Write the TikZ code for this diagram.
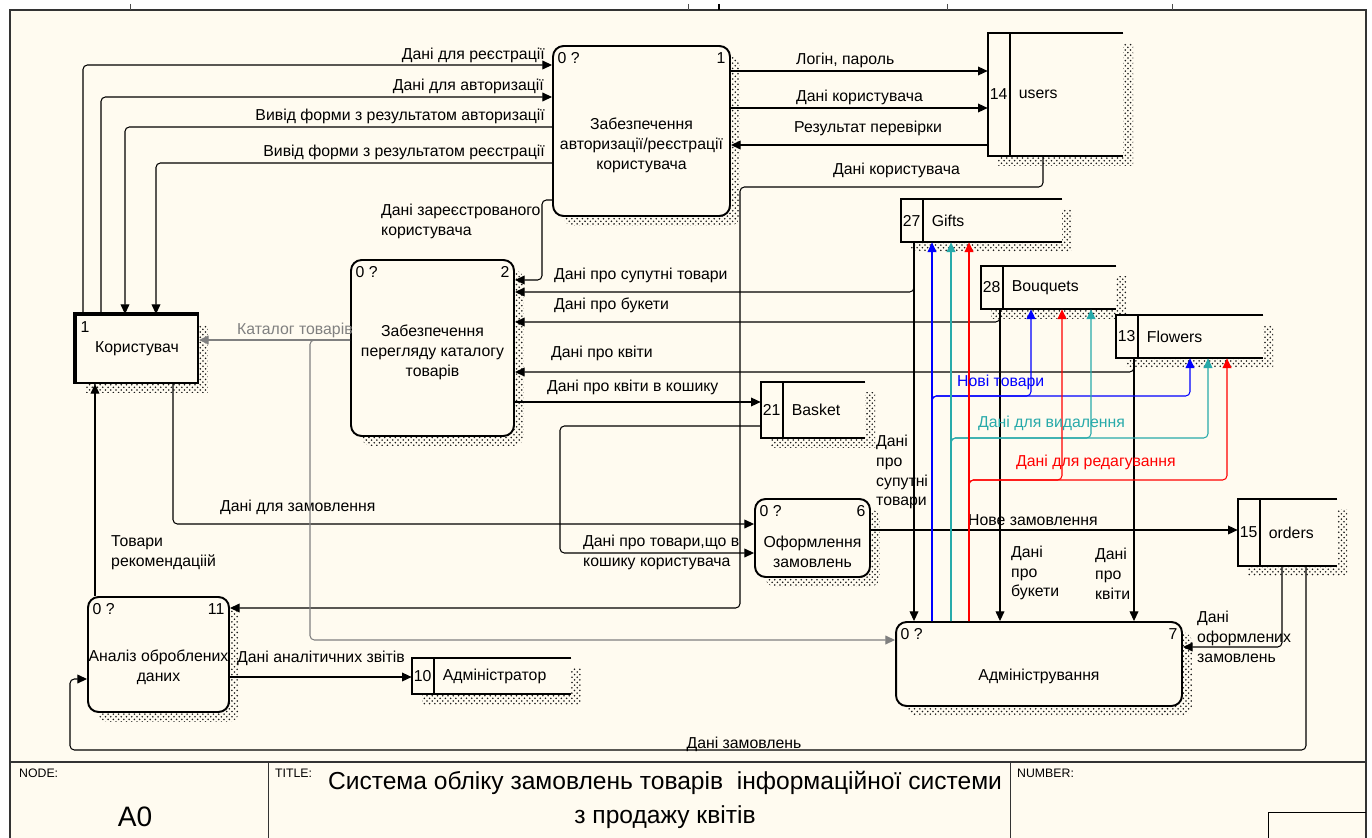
\documentclass[tikz,border=0pt]{standalone}
\usepackage{fontspec}
\setmainfont{Liberation Sans}
\usetikzlibrary{arrows.meta,shadows,patterns}

% colours of the sheet and of the flows
\definecolor{paper}{RGB}{255,251,240}
\definecolor{newflow}{RGB}{0,0,255}
\definecolor{delflow}{RGB}{40,170,170}
\definecolor{editflow}{RGB}{255,0,0}
\definecolor{catflow}{RGB}{128,128,128}

\tikzset{
  every node/.style={font=\fontsize{9}{11.3}\selectfont},
  hatch/.style={general shadow={shadow xshift=0.2cm,shadow yshift=-0.2cm,
      pattern=crosshatch dots,pattern color=black!90}},
  proc/.style={draw,line width=1.1pt,rounded corners=6pt,fill=paper,hatch},
  store/.style={fill=paper,inner sep=0pt,hatch},
  storeline/.style={line width=1.1pt},
  tag/.style={inner xsep=3pt,inner ysep=4pt},
  flow/.style={line width=0.6pt,rounded corners=2.5pt,
      -{Triangle[length=5.5pt,width=5pt]}},
}

% data store: name, centre, width, height, number, title
\newcommand{\datastore}[6]{%
  \node[store,minimum width=#3,minimum height=#4] (#1) at (#2) {};
  \draw[storeline] (#1.north east) -- (#1.north west) -- (#1.south west) -- (#1.south east);
  \draw[storeline] ([xshift=0.44cm]#1.north west) -- ([xshift=0.44cm]#1.south west);
  \node (#1num) at ([xshift=0.22cm]#1.west) {#5};
  \node[anchor=west] (#1name) at ([xshift=0.5cm]#1.west) {#6};
}

\begin{document}
\begin{tikzpicture}[x=0.02cm,y=-0.02cm]

  % sheet
  \useasboundingbox (0,0) rectangle (1372,838);
  \fill[white] (0,0) rectangle (1372,838);
  \fill[paper] (10,10) rectangle (1366,838);
  \draw[line width=1pt,black!80] (10,838) -- (10,10) -- (1366,10) -- (1366,838);
  \foreach \tx in {130,688,947,1172}
    \draw[black!70] (\tx,4) -- (\tx,10);
  \draw[line width=1pt] (719,4) -- (719,10);

  % title block
  \draw[line width=1pt,black!80] (10,762) -- (1366,762);
  \draw[black!80] (268,762) -- (268,838);
  \draw[black!80] (1010,762) -- (1010,838);
  \draw (1268,838) |- (1366,812);
  \node[anchor=west,font=\fontsize{7}{8}\selectfont] (nodelbl) at (13,773) {NODE:};
  \node[font=\fontsize{16}{19}\selectfont] (nodeid) at (135,817) {A0};
  \node[anchor=west,font=\fontsize{7}{8}\selectfont] (titlelbl) at (269,773) {TITLE:};
  \node[align=center,font=\fontsize{14}{19.8}\selectfont] (titletext) at (665,800)
    {Система обліку замовлень товарів\ \ інформаційної системи\\з продажу квітів};
  \node[anchor=west,font=\fontsize{7}{8}\selectfont] (numberlbl) at (1011,773) {NUMBER:};

  % processes
  \node[proc,minimum width=3.54cm,minimum height=3.40cm,
    label={[tag,anchor=north west]north west:0 ?},
    label={[tag,anchor=north east]north east:1}] (auth) at (641.5,131) {};
  \node[align=center] (authtext) at ([yshift=-0.28cm]auth.center)
    {Забезпечення\\авторизації/реєстрації\\користувача};

  \node[proc,minimum width=3.26cm,minimum height=3.52cm,
    label={[tag,anchor=north west]north west:0 ?},
    label={[tag,anchor=north east]north east:2}] (catalog) at (432.5,348) {};
  \node[align=center] (catalogtext) at ([yshift=-0.08cm]catalog.center)
    {Забезпечення\\перегляду каталогу\\товарів};

  \node[proc,minimum width=2.30cm,minimum height=1.56cm,
    label={[tag,anchor=north west]north west:0 ?},
    label={[tag,anchor=north east]north east:6}] (order) at (812.5,538) {};
  \node[align=center] (ordertext) at ([yshift=-0.28cm]order.center)
    {Оформлення\\замовлень};

  \node[proc,minimum width=5.72cm,minimum height=1.68cm,
    label={[tag,anchor=north west]north west:0 ?},
    label={[tag,anchor=north east]north east:7}] (admin) at (1039,664) {};
  \node (admintext) at ([yshift=-0.24cm]admin.center) {Адміністрування};

  \node[proc,minimum width=2.82cm,minimum height=2.30cm,
    label={[tag,anchor=north west]north west:0 ?},
    label={[tag,anchor=north east]north east:11}] (analysis) at (158.5,654.5) {};
  \node[align=center] (analysistext) at ([yshift=-0.26cm]analysis.center)
    {Аналіз оброблених\\даних};

  % external entity
  \node[draw,line width=1.1pt,fill=paper,hatch,minimum width=2.44cm,minimum height=1.36cm,
    label={[tag,anchor=north west]north west:1}] (user) at (137,349) {Користувач};
  \draw[line width=2.6pt] (user.south west) -- (user.north west) -- (user.north east);

  % data stores
  \datastore{users}{1055.5,94.5}{2.70cm}{2.46cm}{14}{users}
  \datastore{gifts}{981.5,220.5}{3.22cm}{0.86cm}{27}{Gifts}
  \datastore{bouquets}{1048.5,287.5}{2.70cm}{0.86cm}{28}{Bouquets}
  \datastore{flowers}{1189.5,336.5}{2.94cm}{0.86cm}{13}{Flowers}
  \datastore{basket}{813,410}{2.08cm}{1.12cm}{21}{Basket}
  \datastore{orders}{1287.5,532.5}{1.98cm}{1.34cm}{15}{orders}
  \datastore{adminstore}{491.5,676}{3.18cm}{0.72cm}{10}{Адміністратор}

  % user <-> authorisation
  \draw[flow] (user.north -| 83,0) |- (auth.west |- 0,65);
  \draw[flow] (user.north -| 101,0) |- (auth.west |- 0,97);
  \draw[flow] (auth.west |- 0,127) -| (user.north -| 125,0);
  \draw[flow] (auth.west |- 0,163) -| (user.north -| 156,0);
  \node[anchor=east] (lreg) at (551,55) {Дані для реєстрації};
  \node[anchor=east] (lauth) at (550,86) {Дані для авторизації};
  \node[anchor=east] (lauthform) at (551,116) {Вивід форми з результатом авторизації};
  \node[anchor=east] (lregform) at (551,152) {Вивід форми з результатом реєстрації};

  % authorisation <-> users
  \draw[flow] (auth.east |- 0,71) -- (users.west |- 0,71);
  \draw[flow] (auth.east |- 0,108) -- (users.west |- 0,108);
  \draw[flow] (users.west |- 0,145) -- (auth.east |- 0,145);
  \draw[flow] (users.south -| 1043,0) |- (740,187) |- (analysis.east |- 0,608);
  \node[anchor=west] (llogin) at (790,60) {Логін, пароль};
  \node[anchor=west] (luserdata) at (790,97) {Дані користувача};
  \node[anchor=west] (lcheck) at (788,128) {Результат перевірки};
  \node[anchor=west] (luserdata2) at (827,170) {Дані користувача};

  % authorisation -> catalogue
  \draw[flow] (auth.west |- 0,200) -- (542,200) |- (catalog.east |- 0,280);
  \node[anchor=west,align=left] (lregistered) at (375,221) {Дані зареєстрованого\\користувача};

  % stores -> catalogue and administration
  \draw[flow] (gifts.south -| 914,0) |- (catalog.east |- 0,292);
  \draw[flow] (gifts.south -| 914,0) -- (admin.north -| 914,0);
  \draw[flow] (bouquets.south -| 1000,0) |- (catalog.east |- 0,322);
  \draw[flow] (bouquets.south -| 1000,0) -- (admin.north -| 1000,0);
  \draw[flow] (flowers.south -| 1134,0) |- (catalog.east |- 0,372);
  \draw[flow] (flowers.south -| 1134,0) -- (admin.north -| 1134,0);
  \node[anchor=west] (lgifts) at (548,275) {Дані про супутні товари};
  \node[anchor=west] (lbouquets) at (548,305) {Дані про букети};
  \node[anchor=west] (lflowers) at (545,353) {Дані про квіти};
  \node[anchor=west,align=left] (lgifts2) at (870,472) {Дані\\про\\супутні\\товари};
  \node[anchor=west,align=left] (lbouquets2) at (1005,573) {Дані\\про\\букети};
  \node[anchor=west,align=left] (lflowers2) at (1089,574) {Дані\\про\\квіти};

  % catalogue -> basket -> order
  \draw[flow] (catalog.east |- 0,402) -- (basket.west |- 0,402);
  \draw[flow] (basket.west |- 0,426) -| (560,553) -- (order.west |- 0,553);
  \node[anchor=west] (lbasket) at (541,387) {Дані про квіти в кошику};
  \node[anchor=west,align=left] (lbasket2) at (577,552) {Дані про товари,що в\\кошику користувача};

  % user -> order -> orders
  \draw[flow] (user.south -| 173,0) |- (order.west |- 0,524);
  \draw[flow] (order.east |- 0,530) -- (orders.west |- 0,530);
  \node[anchor=west] (lorder) at (214,507) {Дані для замовлення};
  \node[anchor=west] (lneworder) at (962,520) {Нове замовлення};

  % orders -> administration and analysis
  \draw[flow] (orders.south -| 1282,0) |- (admin.east |- 0,647);
  \draw[flow] (orders.south -| 1306,0) |- (70,750) |- (analysis.west |- 0,679);
  \node[anchor=west,align=left] (lplaced) at (1191,637) {Дані\\оформлених\\замовлень};
  \node (lorders) at (744,744) {Дані замовлень};

  % analysis
  \draw[flow] (analysis.north -| 95,0) -- (user.south -| 95,0);
  \draw[flow] (analysis.east |- 0,677) -- (adminstore.west |- 0,677);
  \node[anchor=west,align=left] (lrecommend) at (105,553) {Товари\\рекомендаціій};
  \node[anchor=west] (lreports) at (231,658) {Дані аналітичних звітів};

  % catalogue of goods (grey)
  \draw[flow,catflow] (catalog.west |- 0,340) -- (user.east |- 0,340);
  \draw[flow,catflow] (catalog.west |- 0,340) -| (310,640) -- (admin.west |- 0,640);
  \node[anchor=west,text=catflow] (lcatalog) at (231,330) {Каталог товарів};

  % administration -> stores
  \draw[flow,newflow] (admin.north -| 932,0) -- (gifts.south -| 932,0);
  \draw[flow,newflow] (admin.north -| 932,0) |- (1031,396) -- (bouquets.south -| 1031,0);
  \draw[flow,newflow] (admin.north -| 932,0) |- (1190,396) -- (flowers.south -| 1190,0);
  \draw[flow,delflow] (admin.north -| 951,0) -- (gifts.south -| 951,0);
  \draw[flow,delflow] (admin.north -| 951,0) |- (1091,438) -- (bouquets.south -| 1091,0);
  \draw[flow,delflow] (admin.north -| 951,0) |- (1208,438) -- (flowers.south -| 1208,0);
  \draw[flow,editflow] (admin.north -| 969,0) -- (gifts.south -| 969,0);
  \draw[flow,editflow] (admin.north -| 969,0) |- (1062,480) -- (bouquets.south -| 1062,0);
  \draw[flow,editflow] (admin.north -| 969,0) |- (1227,480) -- (flowers.south -| 1227,0);
  \node[anchor=west,text=newflow] (lnew) at (951,382) {Нові товари};
  \node[anchor=west,text=delflow] (ldelete) at (972,423) {Дані для видалення};
  \node[anchor=west,text=editflow] (ledit) at (1010,462) {Дані для редагування};

\end{tikzpicture}
\end{document}
